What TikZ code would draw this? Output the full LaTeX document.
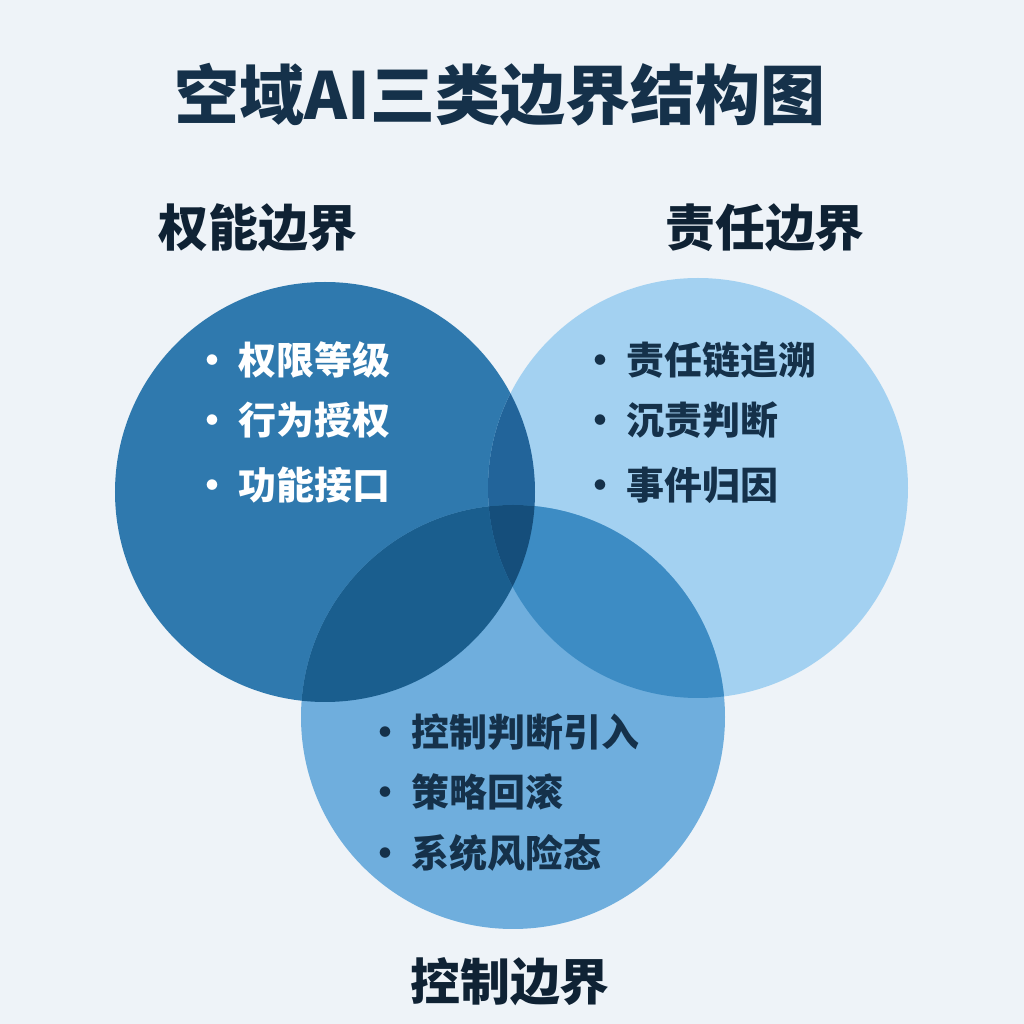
\documentclass[tikz,border=0pt]{standalone}
\usepackage{fontspec}
\usepackage{xcolor}
\usepackage{tikz}
\usetikzlibrary{positioning}
\newfontfamily\cjk{Noto Sans CJK SC}

\definecolor{bgcol}{HTML}{EEF3F8}
\definecolor{navy}{HTML}{15314A}
\definecolor{leftcol}{HTML}{2F79AE}
\definecolor{rightcol}{HTML}{A3D1F1}
\definecolor{botcol}{HTML}{6FAEDD}
\definecolor{lrcol}{HTML}{22649A}
\definecolor{lbcol}{HTML}{1A5E8E}
\definecolor{rbcol}{HTML}{3D8CC4}
\definecolor{allcol}{HTML}{154E7B}

\tikzset{
  titlestyle/.style={font=\cjk\bfseries\fontsize{18.5}{20}\selectfont, text=navy},
  setlabel/.style={font=\cjk\bfseries\fontsize{14.2}{16}\selectfont, text=navy!70!black},
  itemstyle/.style={font=\cjk\bfseries\fontsize{10.8}{12}\selectfont, anchor=west, inner sep=0pt},
}

\begin{document}
\begin{tikzpicture}

  \fill[bgcol] (0,0) rectangle (10.24,10.24);
  \useasboundingbox (0,0) rectangle (10.24,10.24);

  % the three boundaries
  \coordinate (lc) at (3.25,5.32);
  \coordinate (rc) at (6.98,5.36);
  \coordinate (bc) at (5.13,3.07);

  \fill[leftcol] (lc) circle (2.10);
  \fill[rightcol] (rc) circle (2.10);
  \fill[botcol] (bc) circle (2.12);

  % overlaps
  \begin{scope}
    \clip (lc) circle (2.10);
    \fill[lrcol] (rc) circle (2.10);
    \fill[lbcol] (bc) circle (2.12);
  \end{scope}
  \begin{scope}
    \clip (rc) circle (2.10);
    \fill[rbcol] (bc) circle (2.12);
  \end{scope}
  \begin{scope}
    \clip (lc) circle (2.10);
    \clip (rc) circle (2.10);
    \fill[allcol] (bc) circle (2.12);
  \end{scope}

  \node[titlestyle] (title) at (5.00,9.29) {空域AI三类边界结构图};

  \node[setlabel] (power) at (2.58,7.96) {权能边界};
  \node[setlabel] (resp) at (7.65,7.96) {责任边界};
  \node[setlabel] (ctrl) at (5.10,0.42) {控制边界};

  % power items
  \node[itemstyle, text=white] (p1) at (1.93,6.64) {•\hspace{0.18em}权限等级};
  \node[itemstyle, text=white] (p2) at (1.93,6.04) {•\hspace{0.18em}行为授权};
  \node[itemstyle, text=white] (p3) at (1.93,5.39) {•\hspace{0.18em}功能接口};

  % responsibility items
  \node[itemstyle, text=navy] (r1) at (5.81,6.64) {•\hspace{0.18em}责任链追溯};
  \node[itemstyle, text=navy] (r2) at (5.81,6.04) {•\hspace{0.18em}沉责判断};
  \node[itemstyle, text=navy] (r3) at (5.81,5.39) {•\hspace{0.18em}事件归因};

  % control items
  \node[itemstyle, text=navy] (c1) at (3.66,2.92) {•\hspace{0.18em}控制判断引入};
  \node[itemstyle, text=navy] (c2) at (3.66,2.32) {•\hspace{0.18em}策略回滚};
  \node[itemstyle, text=navy] (c3) at (3.66,1.71) {•\hspace{0.18em}系统风险态};

\end{tikzpicture}
\end{document}
